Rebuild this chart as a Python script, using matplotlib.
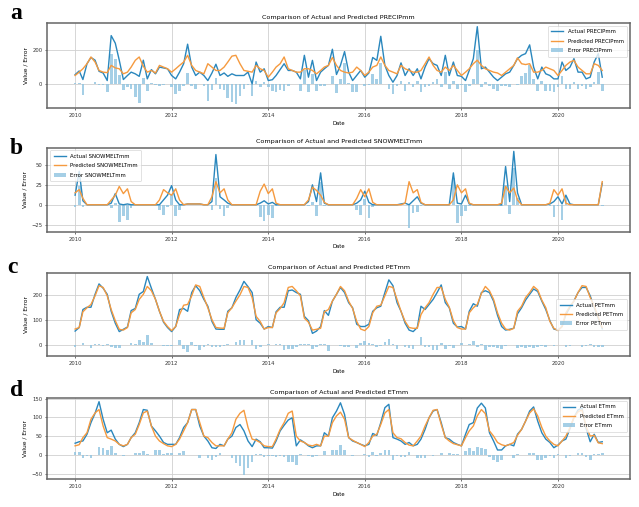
import numpy as np
import pandas as pd
import matplotlib
matplotlib.use('Agg')
import matplotlib.pyplot as plt

# monthly series, Jan 2010 .. Dec 2020
dates = pd.date_range('2010-01-01', periods=132, freq='MS')

precip_actual = [
    55, 77, 26, 120, 157, 141, 75, 65, 20, 287, 242, 141,
    26, 50, 70, 60, 45, 141, 30, 85, 60, 100, 95, 90,
    50, 30, 70, 120, 236, 100, 50, 70, 50, 20, 65, 117,
    50, 65, 45, 60, 50, 50, 50, 70, 0, 130, 70, 90,
    20, 25, 50, 85, 120, 80, 80, 70, 30, 170, 40, 140,
    20, 70, 90, 110, 206, 56, 110, 192, 70, 20, 50, 80,
    40, 65, 157, 140, 283, 110, 50, 10, 50, 125, 50, 90,
    50, 90, 30, 100, 150, 120, 110, 50, 170, 50, 130, 50,
    45, 20, 80, 150, 340, 90, 100, 70, 40, 20, 40, 60,
    70, 110, 150, 170, 180, 232, 100, 30, 100, 60, 50, 30,
    30, 130, 80, 100, 150, 70, 70, 30, 40, 130, 180, 40,
]
precip_pred = [
    50, 70, 90, 120, 160, 130, 80, 70, 67, 110, 95, 90,
    60, 70, 100, 140, 160, 105, 70, 80, 65, 110, 100, 90,
    70, 90, 110, 130, 170, 110, 80, 70, 60, 120, 100, 80,
    80, 100, 130, 165, 170, 120, 80, 75, 70, 110, 90, 80,
    40, 70, 100, 120, 160, 90, 80, 70, 70, 90, 90, 80,
    60, 80, 100, 110, 157, 110, 80, 70, 65, 70, 100, 80,
    50, 70, 100, 110, 160, 110, 80, 70, 60, 110, 90, 80,
    70, 70, 80, 120, 160, 110, 80, 70, 100, 80, 110, 80,
    50, 70, 90, 120, 141, 110, 90, 80, 70, 65, 50, 70,
    90, 110, 155, 120, 115, 120, 70, 70, 80, 100, 90, 80,
    50, 80, 110, 130, 140, 100, 80, 60, 60, 120, 110, 80,
]

snow_actual = [
    12, 42, 5, 0, 0, 0, 0, 0, 0, 2, 14, 1,
    0, 1, 0, 0, 0, 0, 0, 0, 0, 0, 6, 12,
    24, 6, 0, 0, 1, 1, 1, 1, 0, 0, 4, 63,
    10, 6, 2, 0, 0, 0, 0, 0, 0, 0, 2, 5,
    1, 3, 0, 0, 0, 0, 0, 0, 0, 0, 4, 25,
    4, 40, 2, 0, 0, 0, 0, 0, 0, 0, 2, 6,
    17, 3, 0, 0, 0, 0, 0, 0, 0, 1, 2, 0,
    5, 10, 2, 0, 0, 0, 0, 0, 0, 0, 40, 2,
    1, 12, 1, 0, 0, 0, 0, 0, 0, 0, 0, 48,
    4, 67, 15, 0, 0, 0, 0, 0, 0, 0, 1, 4,
    10, 1, 12, 1, 0, 0, 0, 0, 0, 0, 0, 27,
]
snow_pred = [
    15, 19, 8, 0, 0, 0, 0, 0, 0, 6, 12, 23,
    14, 20, 4, 0, 0, 0, 0, 0, 0, 6, 19, 15,
    12, 20, 6, 0, 1, 1, 1, 1, 0, 0, 10, 29,
    15, 20, 6, 0, 0, 0, 0, 0, 0, 0, 17, 26,
    14, 20, 2, 0, 0, 0, 0, 0, 0, 0, 6, 22,
    18, 12, 3, 0, 0, 0, 0, 0, 0, 0, 8, 19,
    10, 20, 3, 0, 0, 0, 0, 0, 0, 0, 2, 29,
    15, 19, 3, 0, 0, 0, 0, 0, 0, 0, 6, 25,
    15, 20, 2, 0, 0, 0, 0, 0, 0, 0, 2, 23,
    15, 21, 6, 0, 0, 0, 0, 0, 0, 0, 2, 19,
    12, 20, 2, 0, 0, 0, 0, 0, 0, 0, 0, 29,
]

pet_actual = [
    56, 70, 141, 150, 150, 201, 242, 225, 201, 134, 87, 54,
    63, 72, 137, 145, 201, 212, 271, 225, 181, 134, 91, 70,
    54, 74, 141, 145, 134, 208, 235, 215, 181, 154, 94, 64,
    63, 63, 134, 148, 188, 218, 252, 231, 208, 101, 87, 64,
    74, 70, 132, 150, 150, 215, 218, 208, 201, 114, 97, 47,
    56, 74, 137, 118, 174, 201, 228, 208, 168, 148, 83, 74,
    74, 83, 134, 148, 154, 208, 258, 235, 168, 134, 87, 60,
    54, 70, 154, 141, 161, 181, 208, 238, 168, 148, 87, 72,
    74, 64, 134, 164, 154, 208, 215, 208, 174, 118, 74, 60,
    63, 67, 124, 148, 178, 201, 222, 212, 174, 141, 97, 64,
    60, 74, 121, 150, 175, 208, 228, 228, 195, 150, 105, 65,
]
pet_pred = [
    64, 70, 132, 148, 161, 195, 235, 228, 195, 141, 97, 63,
    60, 70, 128, 141, 181, 201, 232, 215, 181, 134, 94, 74,
    58, 74, 121, 158, 161, 195, 238, 232, 188, 148, 101, 70,
    68, 67, 128, 148, 174, 199, 232, 228, 188, 114, 94, 64,
    70, 70, 128, 145, 168, 228, 232, 215, 195, 107, 91, 60,
    63, 67, 132, 141, 174, 201, 232, 215, 174, 145, 94, 64,
    58, 74, 128, 154, 158, 195, 232, 228, 181, 134, 94, 70,
    67, 67, 121, 148, 168, 201, 228, 228, 181, 150, 97, 70,
    64, 64, 128, 148, 161, 204, 232, 215, 181, 128, 87, 64,
    60, 67, 134, 154, 188, 208, 232, 218, 178, 148, 94, 67,
    58, 74, 128, 154, 174, 208, 235, 232, 188, 155, 110, 70,
]

et_actual = [
    31, 35, 37, 55, 86, 111, 142, 95, 59, 66, 42, 28,
    22, 28, 46, 59, 86, 121, 119, 77, 64, 50, 33, 28,
    28, 28, 46, 73, 86, 121, 121, 77, 50, 37, 19, 17,
    28, 24, 42, 50, 73, 81, 64, 37, 22, 42, 35, 19,
    19, 18, 37, 64, 79, 93, 99, 24, 40, 33, 24, 19,
    24, 24, 59, 50, 99, 117, 139, 108, 46, 37, 33, 28,
    24, 28, 57, 52, 86, 126, 135, 46, 42, 37, 28, 33,
    24, 28, 42, 68, 99, 117, 121, 86, 46, 42, 33, 28,
    24, 55, 81, 86, 125, 138, 125, 59, 37, 13, 13, 24,
    28, 24, 55, 68, 90, 117, 128, 90, 59, 42, 33, 19,
    26, 37, 42, 70, 100, 120, 125, 70, 35, 55, 33, 35,
]
et_pred = [
    24, 27, 46, 59, 95, 112, 121, 77, 46, 42, 37, 28,
    24, 28, 46, 55, 81, 112, 117, 77, 50, 37, 30, 24,
    22, 28, 42, 64, 86, 121, 121, 86, 50, 46, 33, 24,
    24, 24, 42, 59, 95, 111, 119, 73, 42, 39, 33, 24,
    22, 22, 42, 68, 86, 111, 117, 50, 37, 33, 26, 24,
    28, 24, 50, 50, 86, 104, 114, 95, 46, 39, 33, 28,
    22, 33, 50, 55, 81, 112, 121, 59, 46, 43, 33, 26,
    24, 37, 50, 77, 99, 119, 121, 81, 46, 37, 30, 27,
    24, 46, 64, 77, 104, 121, 110, 64, 50, 33, 27, 24,
    28, 33, 52, 68, 90, 112, 123, 104, 73, 50, 37, 28,
    24, 37, 50, 73, 100, 115, 120, 75, 50, 52, 32, 30,
]

variables = ['PRECIPmm', 'SNOWMELTmm', 'PETmm', 'ETmm']
actuals = [precip_actual, snow_actual, pet_actual, et_actual]
preds = [precip_pred, snow_pred, pet_pred, et_pred]
panel_letters = ['a', 'b', 'c', 'd']
yticks = [[0, 200], [-25, 0, 25, 50], [0, 100, 200], [-50, 0, 50, 100, 150]]
legend_locs = ['upper right', 'upper left', 'center right', 'upper right']

fig = plt.figure(figsize=(6.39, 5.07), dpi=100)

boxes = [
    (0.074, 0.787, 0.912, 0.168),
    (0.074, 0.543, 0.912, 0.166),
    (0.074, 0.298, 0.912, 0.164),
    (0.074, 0.055, 0.912, 0.160),
]
letter_pos = [(0.016, 0.962), (0.016, 0.696), (0.012, 0.462), (0.016, 0.218)]

for i, name in enumerate(variables):
    ax = fig.add_axes(boxes[i])
    act = np.array(actuals[i], dtype=float)
    pre = np.array(preds[i], dtype=float)
    err = act - pre

    ax.plot(dates, act, color='#2a87bd', lw=1.0, label='Actual ' + name)
    ax.plot(dates, pre, color='#f59a3f', lw=1.0, label='Predicted ' + name)
    ax.bar(dates, err, width=20, color='#8fc3e0', alpha=0.8, label='Error ' + name)

    ax.set_yticks(yticks[i])
    ax.grid(True, color='#d0d0d0', lw=0.6)
    ax.set_axisbelow(True)
    for s in ax.spines.values():
        s.set_color('#666666')
        s.set_linewidth(1.1)
    ax.tick_params(length=1.5, width=0.5, pad=2, colors='#333333', labelsize=3.8)

    ax.set_title('Comparison of Actual and Predicted ' + name, fontsize=4.6, pad=3)
    ax.set_xlabel('Date', fontsize=3.8, labelpad=2)
    ax.set_ylabel('Value / Error', fontsize=4.3, labelpad=3)

    leg = ax.legend(loc=legend_locs[i], fontsize=3.9, frameon=True,
                    borderpad=0.7, labelspacing=0.8, handlelength=2.2)
    leg.get_frame().set_linewidth(0.5)

    fig.text(letter_pos[i][0], letter_pos[i][1], panel_letters[i],
             fontsize=17, fontweight='bold', family='Liberation Serif')

fig.savefig('out.png', dpi=100)
